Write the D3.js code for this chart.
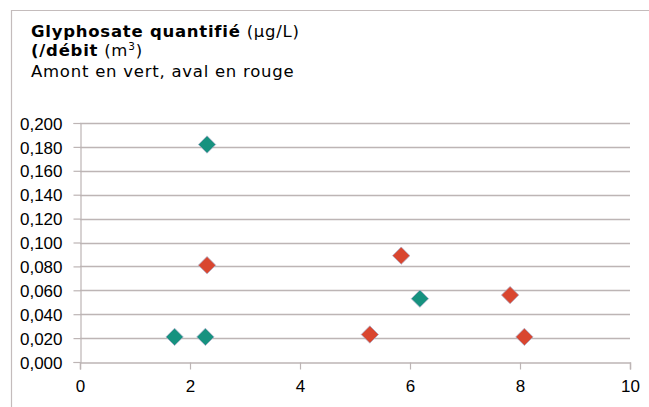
<!DOCTYPE html>
<html>
<head>
<meta charset="utf-8">
<script src="https://cdn.jsdelivr.net/npm/d3@7"></script>
<style>
  html, body { margin: 0; padding: 0; background: #fff; }
  svg { display: block; }
  .tick text { font-family: "Liberation Sans", Arial, sans-serif; font-size: 17px; fill: #000; }
</style>
</head>
<body>
<svg id="chart" width="649" height="407"></svg>
<script>
// Upstream (amont) and downstream (aval) samples: x = flow, y = glyphosate
const amontX = [1.72, 2.28, 2.31, 6.18];
const amontY = [0.021, 0.021, 0.182, 0.053];
const avalX = [2.31, 5.27, 5.84, 7.82, 8.08];
const avalY = [0.081, 0.023, 0.089, 0.056, 0.021];

const xTicks = [0, 2, 4, 6, 8, 10];
const yTicks = [0, 0.02, 0.04, 0.06, 0.08, 0.1, 0.12, 0.14, 0.16, 0.18, 0.2];

const svg = d3.select("#chart");
const W = 649, H = 407;
const plot = { left: 80, right: 630, top: 123, bottom: 362 };
const lineColor = "#bdb5b5";

// Outer chart frame (left and top edges visible)
svg.append("path")
  .attr("d", `M11.5,${H} L11.5,10.5 L${W},10.5`)
  .attr("fill", "none")
  .attr("stroke", "#c4bcbc")
  .attr("stroke-width", 1.2);

const x = d3.scaleLinear().domain([0, 10]).range([plot.left, plot.right]);
const y = d3.scaleLinear().domain([0, 0.2]).range([plot.bottom, plot.top]);

// Horizontal gridlines
svg.append("g")
  .selectAll("line")
  .data(yTicks.filter(d => d > 0))
  .join("line")
  .attr("x1", plot.left)
  .attr("x2", plot.right)
  .attr("y1", d => Math.round(y(d)) + 0.5)
  .attr("y2", d => Math.round(y(d)) + 0.5)
  .attr("stroke", lineColor)
  .attr("stroke-width", 1.4);

const fmt = d => d3.format(".3f")(d).replace(".", ",");

// Y axis
const yAxis = svg.append("g")
  .attr("transform", `translate(${plot.left + 0.5},0)`)
  .call(d3.axisLeft(y).tickValues(yTicks).tickFormat(fmt).tickSize(7).tickPadding(11));
yAxis.select(".domain").attr("stroke", lineColor).attr("stroke-width", 1.2);
yAxis.selectAll(".tick line").attr("stroke", lineColor).attr("stroke-width", 1.2);
yAxis.selectAll(".tick text").attr("dy", "0.36em");

// X axis
const xAxis = svg.append("g")
  .attr("transform", `translate(0,${plot.bottom + 0.5})`)
  .call(d3.axisBottom(x).tickValues(xTicks).tickFormat(d => d).tickSize(7).tickPadding(10));
xAxis.select(".domain").attr("stroke", lineColor).attr("stroke-width", 1.4);
xAxis.selectAll(".tick line").attr("stroke", lineColor).attr("stroke-width", 1.2);

// Diamond markers
const diamond = d3.symbol().type(d3.symbolSquare).size(150);
function drawSeries(xs, ys, color) {
  svg.append("g")
    .selectAll("path")
    .data(xs.map((v, i) => [v, ys[i]]))
    .join("path")
    .attr("d", diamond)
    .attr("transform", d => `translate(${x(d[0])},${y(d[1])}) rotate(45)`)
    .attr("fill", color)
    .attr("stroke", "#a8acc8")
    .attr("stroke-width", 0.7);
}
drawSeries(amontX, amontY, "#16927f");
drawSeries(avalX, avalY, "#d9462f");

// Title block
const title = svg.append("text")
  .attr("font-family", "'DejaVu Sans', Verdana, sans-serif")
  .attr("font-size", 16.5)
  .attr("letter-spacing", 0.75)
  .attr("fill", "#000");

const l1 = title.append("tspan").attr("x", 31).attr("y", 37);
l1.append("tspan").attr("font-weight", "bold").text("Glyphosate quantifié");
l1.append("tspan").text(" (µg/L)");

const l2 = title.append("tspan").attr("x", 31).attr("y", 56);
l2.append("tspan").attr("font-weight", "bold").text("(/débit");
l2.append("tspan").text(" (m");
l2.append("tspan").attr("font-size", 10.5).attr("dy", -6).text("3");
l2.append("tspan").attr("dy", 6).text(")");

title.append("tspan").attr("x", 31).attr("y", 77).text("Amont en vert, aval en rouge");
</script>
</body>
</html>
